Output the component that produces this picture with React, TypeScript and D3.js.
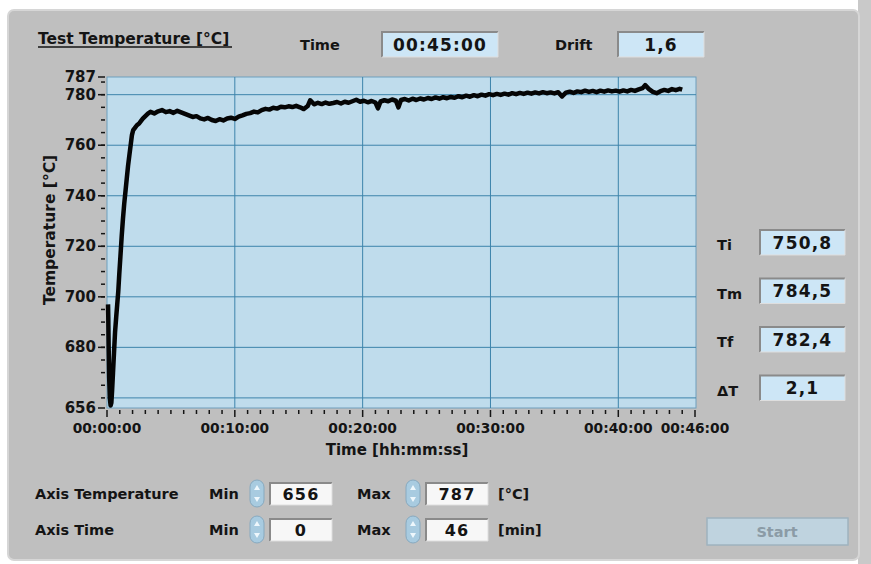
import React from "react";
import * as d3 from "d3";

const width = 871;
const height = 564;
const plot = { left: 107, right: 695, top: 77, bottom: 408 };

// axis settings
const tempDomain = [656, 787];
const timeDomain = [0, 46];
const yLabels = [656, 680, 700, 720, 740, 760, 780, 787];
const yGrid = [660, 680, 700, 720, 740, 760, 780];
const xLabels = [0, 10, 20, 30, 40, 46];
const xGrid = [10, 20, 30, 40];

// indicator values
const readingNames = ["Ti", "Tm", "Tf", "ΔT"];
const readingValues = ["750,8", "784,5", "782,4", "2,1"];
const elapsedTime = "00:45:00";
const driftValue = "1,6";
const axisRows = ["Axis Temperature", "Axis Time"];
const axisMins = ["656", "0"];
const axisMaxs = ["787", "46"];
const axisUnits = ["[°C]", "[min]"];

// measured temperature: [minutes, °C]
const tempSeries: [number, number][] = [
  [0.08, 697], [0.1, 692], [0.13, 680], [0.17, 668], [0.22, 660], [0.28, 657], [0.34, 658],
  [0.4, 663], [0.47, 670], [0.55, 678], [0.63, 686], [0.72, 692], [0.8, 697], [0.88, 702],
  [0.96, 709], [1.05, 716], [1.15, 724], [1.25, 731], [1.35, 737], [1.45, 742], [1.55, 747],
  [1.65, 752], [1.75, 756], [1.85, 760], [1.95, 764], [2.05, 766], [2.2, 767], [2.35, 768],
  [2.5, 768.5], [2.65, 769.5], [2.8, 770.5], [3.0, 771.5], [3.2, 772.5], [3.4, 773.2],
  [3.7, 772.6], [4.0, 773.4], [4.3, 773.9], [4.6, 773.1], [4.9, 773.5], [5.2, 772.8],
  [5.5, 773.6], [5.8, 773.0], [6.1, 772.4], [6.4, 771.8], [6.7, 771.2], [7.0, 771.5],
  [7.3, 770.6], [7.6, 770.2], [7.9, 770.8], [8.2, 770.0], [8.5, 769.6], [8.8, 770.3],
  [9.1, 769.8], [9.4, 770.6], [9.7, 770.9], [10.0, 770.4], [10.3, 771.3], [10.6, 771.8],
  [10.9, 772.4], [11.2, 772.7], [11.5, 773.3], [11.8, 773.0], [12.1, 773.9], [12.4, 774.4],
  [12.7, 774.1], [13.0, 774.8], [13.3, 774.5], [13.6, 775.2], [13.9, 775.0], [14.2, 775.4],
  [14.5, 775.1], [14.8, 775.6], [15.1, 775.0], [15.4, 774.3], [15.7, 775.5], [15.9, 777.8],
  [16.2, 776.2], [16.5, 776.8], [16.8, 776.3], [17.1, 776.9], [17.4, 776.4], [17.7, 776.7],
  [18.0, 777.1], [18.3, 776.5], [18.6, 777.2], [18.9, 776.8], [19.2, 777.4], [19.5, 778.0],
  [19.8, 777.2], [20.1, 777.6], [20.4, 777.0], [20.7, 777.5], [21.0, 776.9], [21.2, 774.6],
  [21.4, 777.3], [21.7, 777.8], [22.0, 777.4], [22.3, 778.1], [22.6, 777.6], [22.8, 775.0],
  [23.0, 777.9], [23.3, 778.3], [23.6, 777.7], [23.9, 778.4], [24.2, 777.9], [24.5, 778.5],
  [24.8, 778.1], [25.1, 778.7], [25.4, 778.3], [25.7, 778.9], [26.0, 778.4], [26.3, 779.0],
  [26.6, 778.6], [26.9, 779.1], [27.2, 778.8], [27.5, 779.4], [27.8, 779.0], [28.1, 779.6],
  [28.4, 779.2], [28.7, 779.8], [29.0, 779.4], [29.3, 780.0], [29.6, 779.6], [29.9, 780.2],
  [30.2, 779.8], [30.5, 780.3], [30.8, 779.9], [31.1, 780.4], [31.4, 780.0], [31.7, 780.6],
  [32.0, 780.2], [32.3, 780.7], [32.6, 780.3], [32.9, 780.8], [33.2, 780.4], [33.5, 780.9],
  [33.8, 780.5], [34.1, 781.0], [34.4, 780.6], [34.7, 780.9], [35.0, 780.5], [35.3, 781.0],
  [35.6, 779.3], [35.9, 780.8], [36.2, 781.2], [36.5, 780.7], [36.8, 781.3], [37.1, 781.0],
  [37.4, 781.6], [37.7, 781.1], [38.0, 781.5], [38.3, 781.0], [38.6, 781.6], [38.9, 781.2],
  [39.2, 781.7], [39.5, 781.3], [39.8, 781.6], [40.1, 781.2], [40.4, 781.7], [40.7, 781.3],
  [41.0, 781.9], [41.3, 781.5], [41.6, 782.1], [41.9, 782.6], [42.1, 783.8], [42.4, 782.2],
  [42.7, 781.1], [43.0, 780.6], [43.3, 781.4], [43.6, 781.9], [43.9, 781.5], [44.2, 782.2],
  [44.5, 781.8], [44.8, 782.3], [45.0, 782.0],
];

const font = "'DejaVu Sans', Verdana, sans-serif";
const ink = "#141414";
const panelGray = "#bfbfbf";
const plotFill = "#bfdcec";
const gridColor = "#3d84ab";
const boxBlue = "#cde6f6";

const x = d3.scaleLinear().domain(timeDomain).range([plot.left, plot.right]);
const y = d3.scaleLinear().domain(tempDomain).range([plot.bottom, plot.top]);

const fmtTime = (m: number) => `00:${d3.format("02d")(m)}:00`;

function SunkenBox({ x0, y0, w, h, fill, text, size = 17 }: any) {
  return (
    <g>
      <rect x={x0} y={y0} width={w} height={h} fill={fill} />
      <path d={`M${x0},${y0 + h} V${y0} H${x0 + w}`} fill="none" stroke="#8a8a8a" strokeWidth={2} />
      <path d={`M${x0 + w},${y0} V${y0 + h} H${x0}`} fill="none" stroke="#dedede" strokeWidth={1} />
      <text x={x0 + w / 2} y={y0 + h / 2 + 6} textAnchor="middle" fontFamily={font} fontWeight="bold"
        fontSize={size} letterSpacing={1.2} fill={ink}>{text}</text>
    </g>
  );
}

function Spinner({ x0, y0 }: any) {
  return (
    <g>
      <rect x={x0} y={y0} width={14} height={27} rx={7} fill="#a8cbe0" stroke="#87a9bf" />
      <path d={`M${x0 + 7},${y0 + 5} l-3,5 h6 z`} fill="#eef7fc" />
      <path d={`M${x0 + 7},${y0 + 22} l-3,-5 h6 z`} fill="#eef7fc" />
    </g>
  );
}

export default function App() {
  const line = d3.line<[number, number]>()
    .x(d => x(d[0]))
    .y(d => y(d[1]));

  const minorY = d3.range(660, 786, 5);
  const minorX = d3.range(0, 47, 1);

  return (
    <svg width={width} height={height} style={{ position: "absolute", left: 0, top: 0 }}>
      <rect width={width} height={height} fill="#ffffff" />
      <rect x={858} y={0} width={13} height={height} fill="#c9c9c9" />
      <rect x={8} y={10} width={851} height={550} rx={6} fill={panelGray} stroke="#d6d6d6" strokeWidth={2} />

      {/* header */}
      <text x={38} y={44} fontFamily={font} fontWeight="bold" fontSize={15.5} fill={ink}>Test Temperature [°C]</text>
      <line x1={38} x2={232} y1={47} y2={47} stroke={ink} strokeWidth={1.3} />
      <text x={300} y={50} fontFamily={font} fontWeight="bold" fontSize={14.5} fill={ink}>Time</text>
      <SunkenBox x0={382} y0={32} w={116} h={25} fill={boxBlue} text={elapsedTime} />
      <text x={555} y={50} fontFamily={font} fontWeight="bold" fontSize={14.5} fill={ink}>Drift</text>
      <SunkenBox x0={618} y0={32} w={86} h={25} fill={boxBlue} text={driftValue} />

      {/* plot area */}
      <rect x={plot.left} y={plot.top} width={plot.right - plot.left + 1} height={plot.bottom - plot.top}
        fill={plotFill} stroke="#6f9fbd" strokeWidth={1} />
      {yGrid.map(v => (
        <line key={"gy" + v} x1={plot.left} x2={plot.right + 1} y1={y(v)} y2={y(v)} stroke={gridColor} strokeWidth={1} />
      ))}
      {xGrid.map(v => (
        <line key={"gx" + v} x1={x(v)} x2={x(v)} y1={plot.top} y2={plot.bottom} stroke={gridColor} strokeWidth={1} />
      ))}
      <path d={line(tempSeries) || ""} fill="none" stroke="#050505" strokeWidth={4.5} strokeLinejoin="round" />

      {/* y axis */}
      {minorY.map(v => (
        <line key={"my" + v} x1={plot.left - 6} x2={plot.left - 2} y1={y(v)} y2={y(v)} stroke={ink} strokeWidth={1.5} />
      ))}
      {yLabels.map(v => (
        <g key={"ly" + v}>
          <line x1={plot.left - 9} x2={plot.left - 2} y1={y(v)} y2={y(v)} stroke={ink} strokeWidth={1.5} />
          <text x={plot.left - 11} y={y(v) + 5} textAnchor="end" fontFamily={font} fontWeight="bold"
            fontSize={15} fill={ink}>{v}</text>
        </g>
      ))}
      <text transform={`translate(55,230) rotate(-90)`} textAnchor="middle" fontFamily={font} fontWeight="bold"
        fontSize={15.5} fill={ink}>Temperature [°C]</text>

      {/* x axis */}
      {minorX.map(v => (
        <line key={"mx" + v} x1={x(v)} x2={x(v)} y1={plot.bottom + 2}
          y2={plot.bottom + (v % 10 === 0 || v === 46 ? 9 : 6)} stroke={ink} strokeWidth={1.5} />
      ))}
      {xLabels.map(v => (
        <text key={"lx" + v} x={x(v)} y={433} textAnchor="middle" fontFamily={font} fontWeight="bold"
          fontSize={13.8} fill={ink}>{fmtTime(v)}</text>
      ))}
      <text x={397} y={455} textAnchor="middle" fontFamily={font} fontWeight="bold" fontSize={15} fill={ink}>
        Time [hh:mm:ss]
      </text>

      {/* readings */}
      {readingNames.map((n, i) => (
        <g key={n}>
          <text x={717} y={250 + i * 48.5} fontFamily={font} fontWeight="bold" fontSize={14.5} fill={ink}>{n}</text>
          <SunkenBox x0={760} y0={230 + i * 48.5} w={85} h={25} fill={boxBlue} text={readingValues[i]} />
        </g>
      ))}

      {/* axis controls */}
      {axisRows.map((r, i) => {
        const base = 499 + i * 36;
        return (
          <g key={r}>
            <text x={35} y={base} fontFamily={font} fontWeight="bold" fontSize={14.5} fill={ink}>{r}</text>
            <text x={209} y={base} fontFamily={font} fontWeight="bold" fontSize={14.5} fill={ink}>Min</text>
            <Spinner x0={250} y0={base - 19} />
            <SunkenBox x0={270} y0={base - 16} w={62} h={22} fill="#f7f7f7" text={axisMins[i]} size={16} />
            <text x={357} y={base} fontFamily={font} fontWeight="bold" fontSize={14.5} fill={ink}>Max</text>
            <Spinner x0={406} y0={base - 19} />
            <SunkenBox x0={426} y0={base - 16} w={62} h={22} fill="#f7f7f7" text={axisMaxs[i]} size={16} />
            <text x={498} y={base} fontFamily={font} fontWeight="bold" fontSize={14.5} fill={ink}>{axisUnits[i]}</text>
          </g>
        );
      })}

      {/* start button */}
      <rect x={707} y={518} width={141} height={27} fill="#bfd3df" stroke="#9fb3bf" strokeWidth={1.5} />
      <text x={777} y={537} textAnchor="middle" fontFamily={font} fontWeight="bold" fontSize={14.5} fill="#8b9ba6">Start</text>
    </svg>
  );
}
